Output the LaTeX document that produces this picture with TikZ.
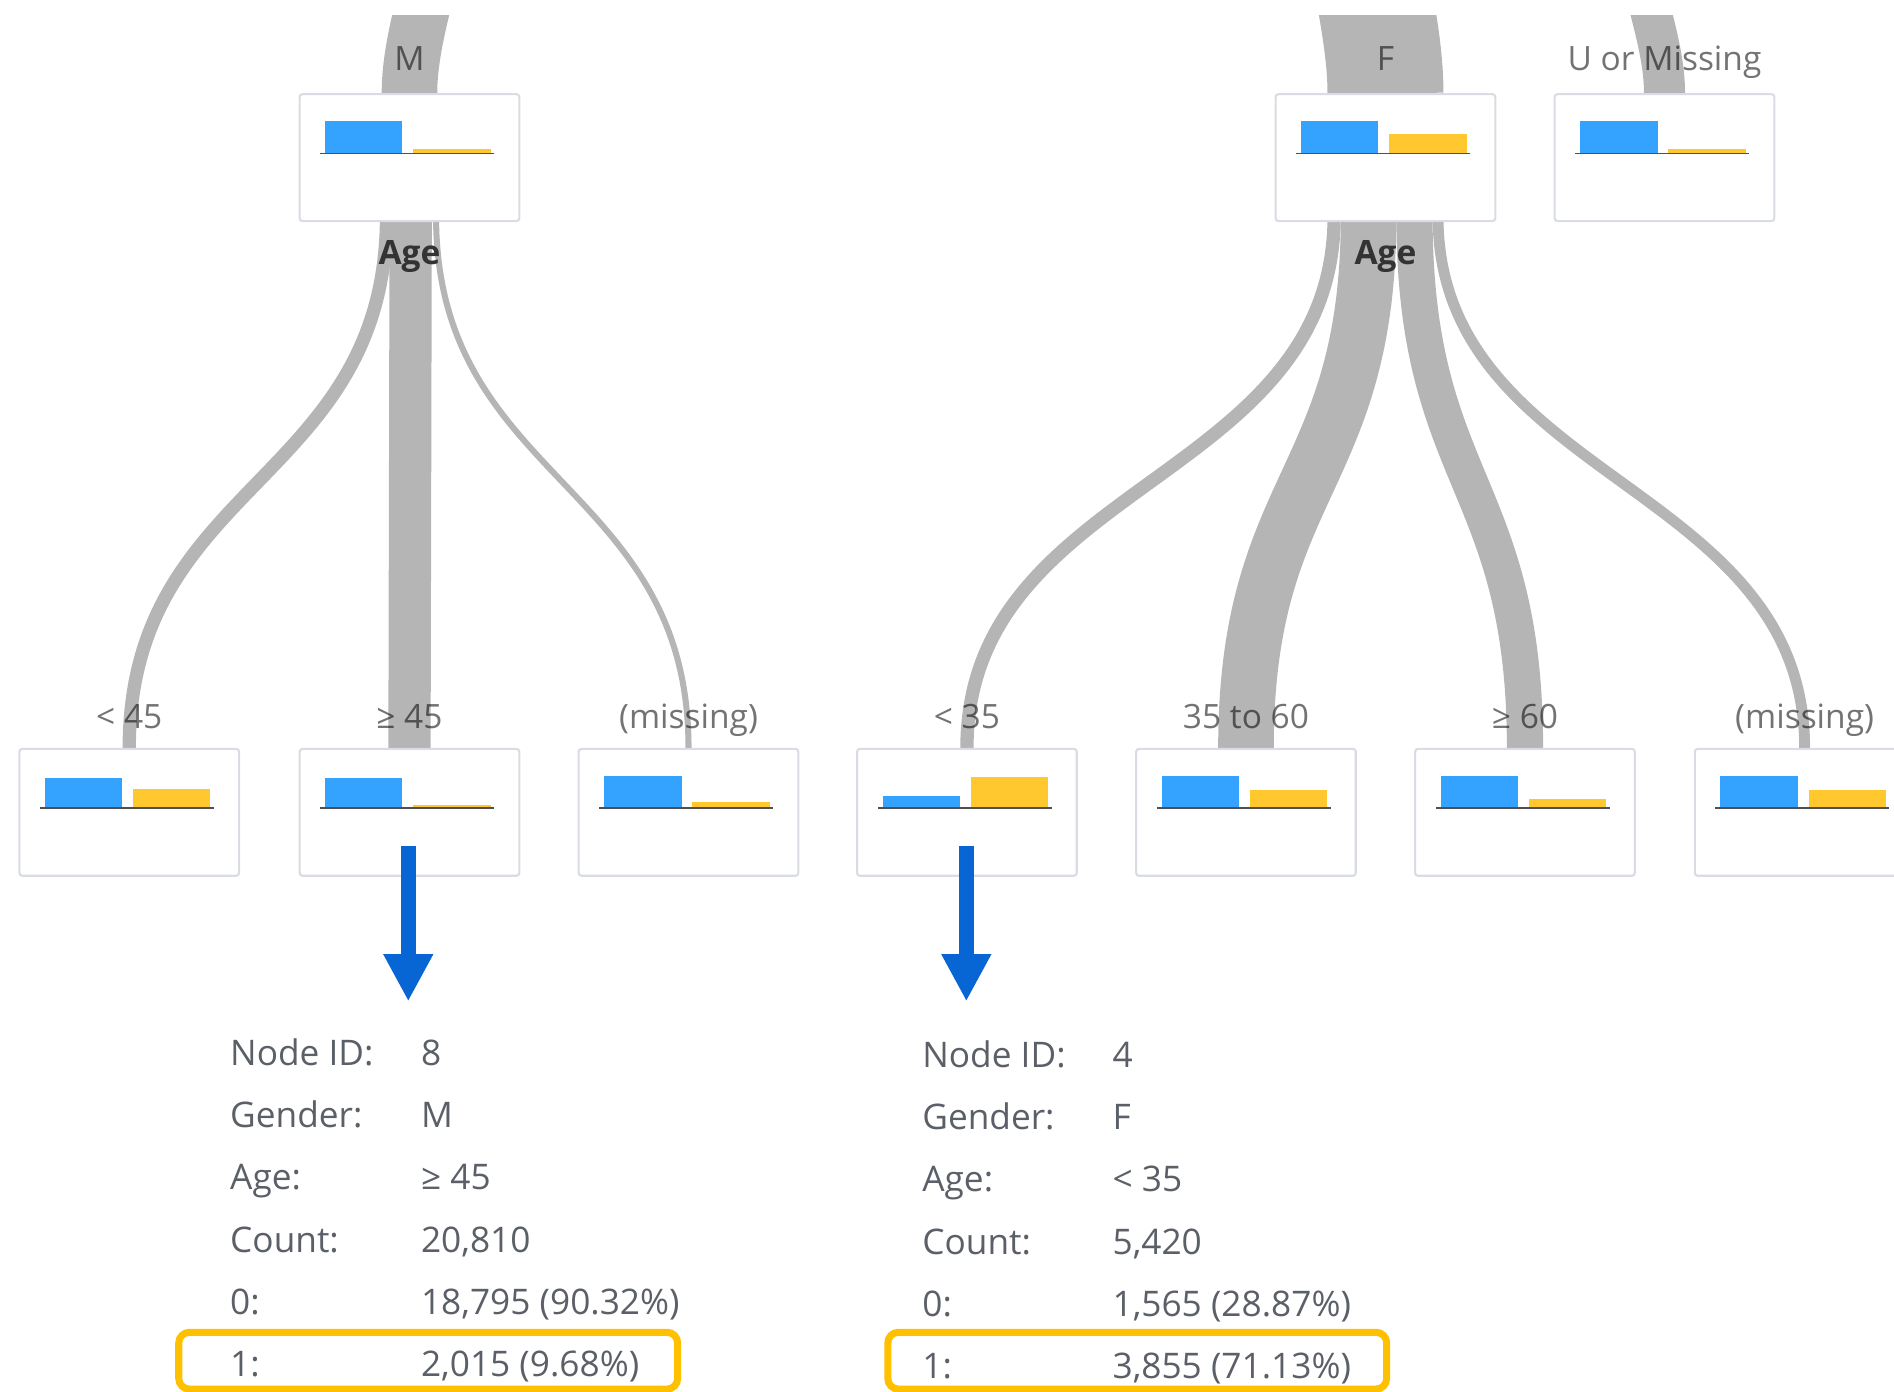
\documentclass[tikz,border=0pt]{standalone}
\usepackage{fontspec}
\setmainfont{Open Sans}
\usetikzlibrary{calc,arrows.meta,backgrounds}

\definecolor{bandgray}{HTML}{B5B5B5}
\definecolor{boxline}{HTML}{D9DCE3}
\definecolor{barblue}{HTML}{33A3FF}
\definecolor{baryellow}{HTML}{FFC82E}
\definecolor{basegray}{HTML}{505050}
\definecolor{splittext}{HTML}{333333}
\definecolor{infotext}{HTML}{5B6068}
\definecolor{arrowblue}{HTML}{0765D4}
\definecolor{hiliteorange}{HTML}{FFC000}

% barres d'un noeud : nom, hauteur bleue, hauteur jaune
\newcommand{\bars}[3]{%
  \fill[barblue] ($(#1.north west)+(22,50)$) rectangle ++(64,-#2);
  \fill[baryellow] ($(#1.north west)+(95,50)$) rectangle ++(64,-#3);
  \draw[basegray, line width=0.5pt] ($(#1.north west)+(18,50)$) -- ++(144,0);
}

\begin{document}
\begin{tikzpicture}[
    x=0.3426pt, y=-0.3426pt,
    leaf/.style={draw=boxline, fill=white, line width=0.6pt, rounded corners=0.8pt,
                 minimum width=62.3pt, minimum height=36pt, inner sep=0pt},
    flow/.style={draw=bandgray, line width=#1*0.3426pt},
    cut/.style={font=\fontsize{9.5}{11}\selectfont, text=black, text opacity=0.55, anchor=base},
    split/.style={font=\fontsize{9.5}{11}\selectfont\bfseries, text=splittext, anchor=base},
    info/.style={font=\fontsize{10}{12}\selectfont, text=infotext, anchor=base west, inner sep=0pt},
    pointer/.style={draw=arrowblue, line width=4.35pt, -{Triangle[width=13.2pt, length=13.4pt]}},
    hilite/.style={draw=hiliteorange, line width=2pt, rounded corners=3pt}
]
\useasboundingbox (0,0) rectangle (1568,1152);

% Noeuds du premier niveau
\node[leaf] (mbox) at (339,130.5) {};
\node[leaf] (fbox) at (1147,130.5) {};
\node[leaf] (ubox) at (1378,130.5) {};

% Noeuds du second niveau
\node[leaf] (lt45) at (107,672.5) {};
\node[leaf] (ge45) at (339,672.5) {};
\node[leaf] (mmiss) at (570,672.5) {};
\node[leaf] (lt35) at (800.5,672.5) {};
\node[leaf] (mid) at (1031.5,672.5) {};
\node[leaf] (ge60) at (1262.5,672.5) {};
\node[leaf] (fmiss) at (1494,672.5) {};

\coordinate (mtop) at (366,-60);
\coordinate (ftop) at (1128,-60);
\coordinate (utop) at (1350,-60);

\begin{scope}[on background layer]
% Flux vers les feuilles
\draw[flow=11] ($(mbox.south)+(-19,-5)$) .. controls +(0,220) and +(0,-220) .. (lt45.north);
\draw[flow=35] ($(mbox.south)+(1,-5)$) .. controls +(0,220) and +(0,-220) .. (ge45.north);
\draw[flow=5] ($(mbox.south)+(22,-5)$) .. controls +(0,220) and +(0,-220) .. (mmiss.north);
\draw[flow=11] ($(fbox.south)+(-42.5,-5)$) .. controls +(0,220) and +(0,-220) .. (lt35.north);
\draw[flow=46] ($(fbox.south)+(-14,-5)$) .. controls +(0,220) and +(0,-220) .. (mid.north);
\draw[flow=30] ($(fbox.south)+(24,-5)$) .. controls +(0,220) and +(0,-220) .. (ge60.north);
\draw[flow=9] ($(fbox.south)+(43.5,-5)$) .. controls +(0,220) and +(0,-220) .. (fmiss.north);
% Flux entrants (coupes en haut)
\begin{scope}
\clip (0,13) rectangle (1568,200);
\draw[flow=46] (mbox.north) .. controls +(0,-38) and (352,0) .. (mtop);
\draw[flow=96] (fbox.north) .. controls +(0,-38) and (1138,0) .. (ftop);
\draw[flow=34] (ubox.north) .. controls +(0,-38) and (1362,0) .. (utop);
\end{scope}
\end{scope}

% Barres
\bars{mbox}{27}{3.5}
\bars{fbox}{27}{16}
\bars{ubox}{27}{3.5}
\bars{lt45}{25}{16}
\bars{ge45}{25}{3}
\bars{mmiss}{27}{5}
\bars{lt35}{10}{25.5}
\bars{mid}{27}{15}
\bars{ge60}{27}{7.5}
\bars{fmiss}{27}{15}

% Etiquettes
\node[cut] (mlab) at ([yshift=6.3pt]mbox.north) {M};
\node[cut] (flab) at ([yshift=6.3pt]fbox.north) {F};
\node[cut] (ulab) at ([yshift=6.3pt]ubox.north) {U or Missing};
\node[split] (mage) at ([yshift=-12pt]mbox.south) {Age};
\node[split] (fage) at ([yshift=-12pt]fbox.south) {Age};
\node[cut] (lt45lab) at ([yshift=5.5pt]lt45.north) {< 45};
\node[cut] (ge45lab) at ([yshift=5.5pt]ge45.north) {≥ 45};
\node[cut] (mmisslab) at ([yshift=5.5pt]mmiss.north) {(missing)};
\node[cut] (lt35lab) at ([yshift=5.5pt]lt35.north) {< 35};
\node[cut] (midlab) at ([yshift=5.5pt]mid.north) {35 to 60};
\node[cut] (ge60lab) at ([yshift=5.5pt]ge60.north) {≥ 60};
\node[cut] (fmisslab) at ([yshift=5.5pt]fmiss.north) {(missing)};

% Fleches vers les details
\coordinate (p8top) at (338,700);
\coordinate (p8tip) at (338,829);
\coordinate (p4top) at (800,700);
\coordinate (p4tip) at (800,829);
\draw[pointer] (p8top) -- (p8tip);
\draw[pointer] (p4top) -- (p4tip);

% Details du noeud 8
\node[info] (k8id) at (190,882) {Node ID:};
\node[info] (v8id) at (348,882) {8};
\node[info] (k8gen) at (190,933.5) {Gender:};
\node[info] (v8gen) at (348,933.5) {M};
\node[info] (k8age) at (190,985) {Age:};
\node[info] (v8age) at (348,985) {≥ 45};
\node[info] (k8cnt) at (190,1036.5) {Count:};
\node[info] (v8cnt) at (348,1036.5) {20,810};
\node[info] (k8zero) at (190,1088) {0:};
\node[info] (v8zero) at (348,1088) {18,795 (90.32\%)};
\node[info] (k8one) at (190,1139.5) {1:};
\node[info] (v8one) at (348,1139.5) {2,015 (9.68\%)};

% Details du noeud 4
\node[info] (k4id) at (763,884) {Node ID:};
\node[info] (v4id) at (920.5,884) {4};
\node[info] (k4gen) at (763,935.4) {Gender:};
\node[info] (v4gen) at (920.5,935.4) {F};
\node[info] (k4age) at (763,986.8) {Age:};
\node[info] (v4age) at (920.5,986.8) {< 35};
\node[info] (k4cnt) at (763,1038.2) {Count:};
\node[info] (v4cnt) at (920.5,1038.2) {5,420};
\node[info] (k4zero) at (763,1089.6) {0:};
\node[info] (v4zero) at (920.5,1089.6) {1,565 (28.87\%)};
\node[info] (k4one) at (763,1141) {1:};
\node[info] (v4one) at (920.5,1141) {3,855 (71.13\%)};

% Mise en evidence
\draw[hilite] (148,1103) rectangle (561,1150);
\draw[hilite] (735,1103) rectangle (1148,1150);

\end{tikzpicture}
\end{document}
